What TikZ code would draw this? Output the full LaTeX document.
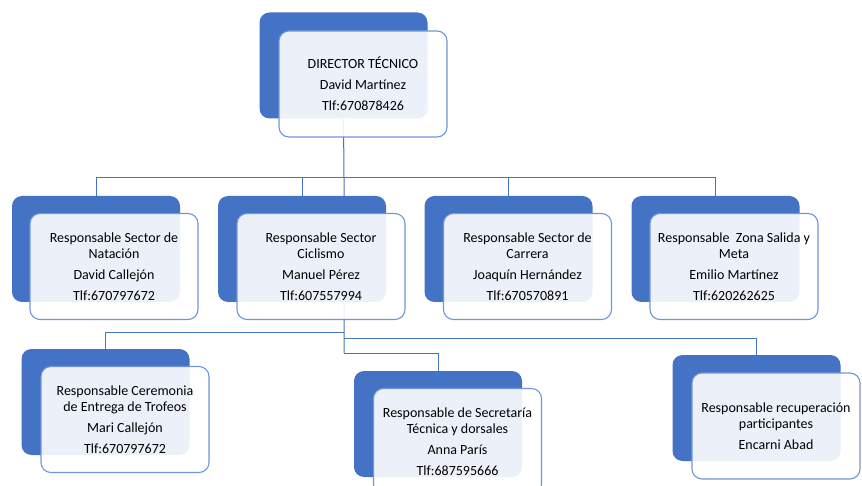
\documentclass[tikz,border=0pt]{standalone}
\usepackage{fontspec}
\setmainfont{Carlito}
\usepackage{xcolor}
\usepackage{tikz}
\usetikzlibrary{positioning,backgrounds}
\definecolor{offblue}{HTML}{4472C4}
\definecolor{cardline}{HTML}{7196D8}

\begin{document}
\begin{tikzpicture}
      [ x=1pt, y=-1pt,
        cardback/.style={fill=offblue, rounded corners=10pt, minimum width=168pt,
                         minimum height=106pt, inner sep=0pt},
        card/.style={draw=cardline, line width=1.1pt, fill=white, fill opacity=0.9,
                     text opacity=1, rounded corners=10pt, minimum width=168pt,
                     minimum height=106pt, inner sep=2pt, align=center,
                     font=\fontsize{14}{16}\selectfont},
        link/.style={draw=offblue, line width=1pt}
      ]
      \useasboundingbox (0,0) rectangle (862,486);

      % director
      \node[cardback] (dirB) at (343.5,65.5) {};
      \node[card]     (dir)  at (363,84)
            {DIRECTOR TÉCNICO\\[5pt] David Martínez\\[5pt] Tlf:670878426};

      % second level
      \node[cardback] (natB) at (96,249) {};
      \node[card]     (nat)  at (114,266.5)
            {Responsable Sector de\\ Natación\\[5pt] David Callejón\\[5pt] Tlf:670797672};
      \node[cardback] (cicB) at (302,249) {};
      \node[card]     (cic)  at (321,266.5)
            {Responsable Sector\\ Ciclismo\\[5pt] Manuel Pérez\\[5pt] Tlf:607557994};
      \node[cardback] (carB) at (508.5,249) {};
      \node[card]     (car)  at (527.5,266.5)
            {Responsable Sector de\\ Carrera\\[5pt] Joaquín Hernández\\[5pt] Tlf:670570891};
      \node[cardback] (metB) at (715.5,249) {};
      \node[card]     (met)  at (734,266.5)
            {Responsable~ Zona Salida y\\ Meta\\[5pt] Emilio Martínez\\[5pt] Tlf:620262625};

      % third level
      \node[cardback] (cerB) at (105.5,402) {};
      \node[card]     (cer)  at (125,419.5)
            {Responsable Ceremonia\\ de Entrega de Trofeos\\[5pt] Mari Callejón\\[5pt] Tlf:670797672};
      \node[cardback] (secB) at (438,424) {};
      \node[card]     (sec)  at (457.5,441.5)
            {Responsable de Secretaría\\ Técnica y dorsales\\[5pt] Anna París\\[5pt] Tlf:687595666};
      \node[cardback] (recB) at (756.5,408) {};
      \node[card]     (rec)  at (776,426)
            {Responsable recuperación\\ participantes\\[5pt] Encarni Abad};

      \coordinate (bus)   at (344,178);
      \coordinate (subA)  at (344,332);
      \coordinate (subB)  at (344,338);
      \coordinate (trunk) at (344,353);

      \begin{pgfonlayer}{background}
        \draw[link] (dirB.south) -- (bus) -- (trunk);
        \draw[link] (bus) -| (natB.north);
        \draw[link] (bus) -| (cicB.north);
        \draw[link] (bus) -| (carB.north);
        \draw[link] (bus) -| (metB.north);
        \draw[link] (subA) -| (cerB.north);
        \draw[link] (trunk) -| (secB.north);
        \draw[link] (subB) -| (recB.north);
      \end{pgfonlayer}
    \end{tikzpicture}
\end{document}
